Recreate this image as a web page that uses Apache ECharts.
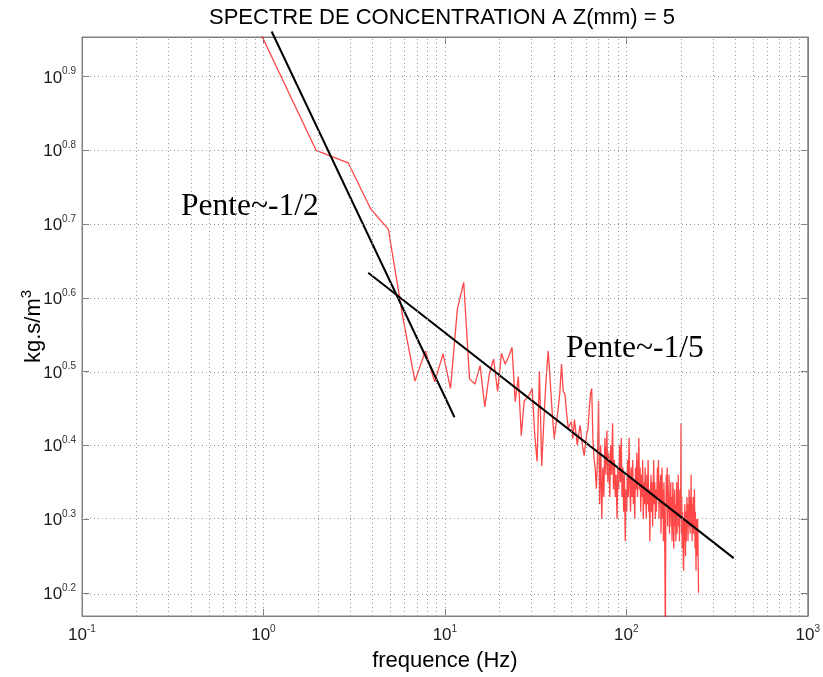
<!DOCTYPE html>
<html><head><meta charset="utf-8">
<script src="https://cdn.jsdelivr.net/npm/echarts@6/dist/echarts.min.js"></script>
<style>html,body{margin:0;padding:0;background:#fff}#c{width:823px;height:677px}</style>
</head><body><div id="c"></div>
<script>
// Frequency bins (Hz)
const freqHz = [0.98,1.95,2.93,3.91,4.88,5.86,6.84,7.81,8.79,9.77,
10.74,11.72,12.70,13.67,14.65,15.63,16.60,17.58,18.55,19.53,
20.51,21.48,22.46,23.44,24.41,25.39,26.37,27.34,28.32,29.30,
30.27,31.25,32.23,33.20,34.18,35.16,36.13,37.11,38.09,39.06,
40.04,41.02,41.99,42.97,43.95,44.92,45.90,46.88,47.85,48.83,
49.80,50.78,51.76,52.73,53.71,54.69,55.66,56.64,57.62,58.59,
59.57,60.55,61.52,62.50,63.48,64.45,65.43,66.41,67.38,68.36,
69.34,70.31,71.29,72.27,73.24,74.22,75.20,76.17,77.15,78.13,
79.10,80.08,81.05,82.03,83.01,83.98,84.96,85.94,86.91,87.89,
88.87,89.84,90.82,91.80,92.77,93.75,94.73,95.70,96.68,97.66,
98.63,99.61,100.59,101.56,102.54,103.52,104.49,105.47,106.45,107.42,
108.40,109.38,110.35,111.33,112.30,113.28,114.26,115.23,116.21,117.19,
118.16,119.14,120.12,121.09,122.07,123.05,124.02,125.00,125.98,126.95,
127.93,128.91,129.88,130.86,131.84,132.81,133.79,134.77,135.74,136.72,
137.70,138.67,139.65,140.63,141.60,142.58,143.55,144.53,145.51,146.48,
147.46,148.44,149.41,150.39,151.37,152.34,153.32,154.30,155.27,156.25,
157.23,158.20,159.18,160.16,161.13,162.11,163.09,164.06,165.04,166.02,
166.99,167.97,168.95,169.92,170.90,171.88,172.85,173.83,174.80,175.78,
176.76,177.73,178.71,179.69,180.66,181.64,182.62,183.59,184.57,185.55,
186.52,187.50,188.48,189.45,190.43,191.41,192.38,193.36,194.34,195.31,
196.29,197.27,198.24,199.22,200.20,201.17,202.15,203.13,204.10,205.08,
206.05,207.03,208.01,208.98,209.96,210.94,211.91,212.89,213.87,214.84,
215.82,216.80,217.77,218.75,219.73,220.70,221.68,222.66,223.63,224.61,
225.59,226.56,227.54,228.52,229.49,230.47,231.45,232.42,233.40,234.38,
235.35,236.33,237.30,238.28,239.26,240.23,241.21,242.19,243.16,244.14,
245.12,246.09,247.07,248.05,249.02,250.00];

// Spectrum, read as the exponent of 10 on the kg.s/m3 axis
const spectrumExp = [0.955,0.800,0.783,0.720,0.693,0.574,0.487,0.528,0.486,0.524,
0.477,0.585,0.621,0.490,0.483,0.508,0.452,0.497,0.517,0.473,
0.525,0.510,0.520,0.533,0.459,0.493,0.413,0.460,0.464,0.469,
0.477,0.416,0.378,0.500,0.372,0.436,0.490,0.528,0.486,0.443,
0.409,0.429,0.447,0.470,0.510,0.473,0.469,0.443,0.423,0.428,
0.432,0.409,0.435,0.433,0.400,0.416,0.427,0.409,0.396,0.386,
0.402,0.416,0.423,0.450,0.470,0.477,0.409,0.382,0.369,0.341,
0.38,0.46,0.32,0.40,0.30,0.37,0.33,0.41,
0.36,0.42,0.35,0.39,0.33,0.40,0.36,0.43,0.34,0.38,0.33,0.36,
0.30,0.37,0.34,0.40,0.35,0.41,0.33,0.37,0.31,0.36,
0.27,0.34,0.31,0.38,0.33,0.41,0.35,0.31,0.37,0.33,
0.38,0.32,0.35,0.30,0.37,0.34,0.39,0.33,0.36,0.41,
0.34,0.37,0.31,0.36,0.33,0.38,0.30,0.35,0.32,0.37,
0.33,0.30,0.36,0.32,0.38,0.31,0.34,0.27,0.33,0.36,
0.31,0.35,0.29,0.34,0.38,0.32,0.35,0.30,0.34,0.31,
0.31,0.37,0.33,0.38,0.30,0.35,0.32,0.36,0.28,0.33,
0.37,0.30,0.34,0.27,0.35,0.31,0.25,0.13,0.30,0.36,
0.32,0.37,0.29,0.34,0.31,0.36,0.28,0.33,0.30,0.35,
0.29,0.33,0.27,0.32,0.35,0.30,0.26,0.31,0.34,0.29,
0.32,0.27,0.30,0.35,0.28,0.33,0.31,0.36,0.29,0.32,
0.27,0.34,0.30,0.31,0.43,0.28,0.33,0.26,0.31,0.29,
0.24,0.23,0.30,0.27,0.32,0.28,0.25,0.31,0.27,0.30,
0.33,0.29,0.31,0.27,0.32,0.30,0.34,0.29,0.31,0.28,
0.33,0.30,0.36,0.29,0.31,0.27,0.32,0.30,0.33,0.28,
0.31,0.29,0.34,0.30,0.26,0.31,0.28,0.23,0.30,0.27,
0.29,0.25,0.30,0.28,0.24,0.20];

// Hand-drawn slope lines (endpoints in data units: Hz, exponent)
const slopeHalfFreq = [1.11, 11.3];
const slopeHalfExp = [0.961, 0.438];
const slopeFifthFreq = [3.78, 390.7];
const slopeFifthExp = [0.634, 0.247];

// Axes
const xMin = 0.1, xMax = 1000;
const yMinExp = 0.1685, yMaxExp = 0.9536;
const yTickExp = [0.2, 0.3, 0.4, 0.5, 0.6, 0.7, 0.8, 0.9];
const xGridValues = [0.2,0.3,0.4,0.5,0.6,0.7,0.8,0.9,1,2,3,4,5,6,7,8,9,10,20,30,40,50,60,70,80,90,100,200,300,400,500,600,700,800,900];

const p10 = e => Math.pow(10, e);
const spectrum = freqHz.map((f, i) => [f, p10(spectrumExp[i])]);
const slopeHalf = slopeHalfFreq.map((f, i) => [f, p10(slopeHalfExp[i])]);
const slopeFifth = slopeFifthFreq.map((f, i) => [f, p10(slopeFifthExp[i])]);
const yTicks = yTickExp.map(p10);

const FONT = '"Liberation Sans", Arial, sans-serif';
const SERIF = '"Liberation Serif", "Times New Roman", serif';
const rich = {
  b: { fontFamily: FONT, fontSize: 17, color: '#1a1a1a', lineHeight: 20, verticalAlign: 'bottom' },
  s: { fontFamily: FONT, fontSize: 10, color: '#333', lineHeight: 11, verticalAlign: 'top' }
};
const axisCol = '#808080';

const chart = echarts.init(document.getElementById('c'), null, { renderer: 'canvas' });
chart.setOption({
  animation: false,
  backgroundColor: '#fff',
  title: {
    text: 'SPECTRE DE CONCENTRATION A Z(mm) = 5',
    left: 204, top: 2,
    textStyle: { fontFamily: FONT, fontSize: 22, fontWeight: 'normal', color: '#000' }
  },
  grid: { left: 82, right: 12, top: 37, bottom: 59, show: true, borderColor: axisCol, borderWidth: 1, backgroundColor: '#fff' },
  xAxis: [{
    type: 'log', logBase: 10, min: xMin, max: xMax, position: 'bottom',
    name: 'frequence (Hz)', nameLocation: 'middle', nameGap: 34, nameMoveOverlap: false,
    nameTextStyle: { fontFamily: FONT, fontSize: 22, color: '#000' },
    axisLine: { show: true, lineStyle: { color: axisCol } },
    axisTick: { show: true, inside: true, length: 7, lineStyle: { color: axisCol } },
    axisLabel: { margin: 8, formatter: v => '{b|10}{s|' + Math.round(Math.log10(v)) + '}', rich: rich },
    splitLine: { show: false }
  }, {
    type: 'log', logBase: 10, min: xMin, max: xMax, position: 'top',
    axisLine: { show: true, lineStyle: { color: axisCol } },
    axisTick: { show: true, inside: true, length: 7, lineStyle: { color: axisCol } },
    axisLabel: { show: false }, splitLine: { show: false }
  }],
  yAxis: [{
    type: 'log', logBase: 10, min: p10(yMinExp), max: p10(yMaxExp), position: 'left',
    name: '{n|kg.s/m}{u|3}', nameLocation: 'middle', nameGap: 37, nameMoveOverlap: false,
    nameTextStyle: { rich: {
      n: { fontFamily: FONT, fontSize: 22, color: '#000', lineHeight: 26, verticalAlign: 'bottom' },
      u: { fontFamily: FONT, fontSize: 15, color: '#000', lineHeight: 14, verticalAlign: 'top' } } },
    axisLine: { show: true, lineStyle: { color: axisCol } },
    axisTick: { show: true, inside: true, length: 7, customValues: yTicks, lineStyle: { color: axisCol } },
    axisLabel: { margin: 6, customValues: yTicks,
      formatter: v => '{b|10}{s|' + (Math.round(Math.log10(v) * 10) / 10).toFixed(1) + '}', rich: rich },
    splitLine: { show: false }
  }, {
    type: 'log', logBase: 10, min: p10(yMinExp), max: p10(yMaxExp), position: 'right',
    axisLine: { show: true, lineStyle: { color: axisCol } },
    axisTick: { show: true, inside: true, length: 7, customValues: yTicks, lineStyle: { color: axisCol } },
    axisLabel: { show: false, customValues: yTicks }, splitLine: { show: false }
  }],
  series: [{
    name: 'grid', type: 'line', data: [], z: 1, silent: true,
    markLine: {
      silent: true, symbol: ['none', 'none'], label: { show: false }, animation: false,
      lineStyle: { type: [1, 3], color: '#999', width: 1 },
      emphasis: { disabled: true },
      data: xGridValues.map(v => ({ xAxis: v })).concat(yTicks.map(v => ({ yAxis: v })))
    }
  }, {
    name: 'spectre', type: 'line', data: spectrum, z: 3, symbol: 'none', showSymbol: false,
    lineStyle: { color: 'rgba(255,0,0,0.72)', width: 1.3 }, clip: true
  }, {
    name: 'pente12', type: 'line', data: slopeHalf, z: 4, symbol: 'none', clip: false,
    lineStyle: { color: '#000', width: 2 }
  }, {
    name: 'pente15', type: 'line', data: slopeFifth, z: 4, symbol: 'none', clip: false,
    lineStyle: { color: '#000', width: 2 }
  }],
  graphic: [
    { type: 'text', left: 181, top: 191, z: 10, style: { text: 'Pente~-1/2', font: '31.5px ' + SERIF, fill: '#000' } },
    { type: 'text', left: 566, top: 333, z: 10, style: { text: 'Pente~-1/5', font: '31.5px ' + SERIF, fill: '#000' } }
  ]
});
</script></body></html>
